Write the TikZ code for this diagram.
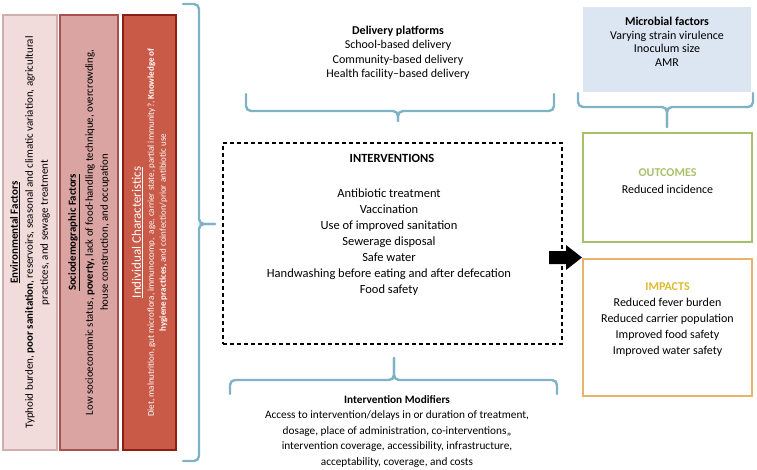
\documentclass[tikz,border=0pt]{standalone}
\usepackage{fontspec}
\setmainfont{Carlito}
\usepackage{tikz}

\definecolor{envfill}{HTML}{F2DCDB}
\definecolor{envline}{HTML}{CFAFAD}
\definecolor{socfill}{HTML}{D9A4A2}
\definecolor{socline}{HTML}{A8504C}
\definecolor{indfill}{HTML}{C95A47}
\definecolor{indline}{HTML}{8C1E14}
\definecolor{bracecol}{HTML}{7DB3C5}
\definecolor{microfill}{HTML}{DCE6F2}
\definecolor{outgreen}{HTML}{A9C06A}
\definecolor{impline}{HTML}{E9B46A}
\definecolor{impgold}{HTML}{DDBB2E}

\begin{document}
\begin{tikzpicture}[x=1pt,y=-1pt,
	sidebox/.style={draw,line width=1.6pt,rotate=90,align=center,inner sep=0pt},
	brace/.style={draw=bracecol,line width=2.4pt,rounded corners=5pt,line cap=round},
	txt/.style={align=center,inner sep=0pt,font=\fontsize{12}{14.5}\selectfont},
	outbox/.style={draw,line width=1.8pt,minimum width=169pt,inner sep=0pt}]
		\useasboundingbox (0,0) rectangle (757,469);
		
		% factors on the left
		\node[sidebox,fill=envfill,draw=envline,minimum width=435pt,minimum height=54pt,
			font=\fontsize{11}{15}\selectfont] (env) at (30,232.5)
			{\underline{\textbf{Environmental Factors}}\\
			Typhoid burden, \textbf{poor sanitation}, reservoirs, seasonal and climatic variation, agricultural\\
			practices, and sewage treatment};
		\node[sidebox,fill=socfill,draw=socline,minimum width=435pt,minimum height=58pt,
			font=\fontsize{10.8}{15}\selectfont] (socio) at (89,232.5)
			{\underline{\textbf{Sociodemographic Factors}}\\[2pt]
			Low socioeconomic status, \textbf{poverty,} lack of food-handling technique, overcrowding,\\
			house construction, and occupation};
		\node[sidebox,fill=indfill,draw=indline,minimum width=435pt,minimum height=53pt,
			text=white] (indiv) at (149.5,232.5)
			{{\fontsize{13}{15}\selectfont\underline{Individual Characteristics}}\\[1pt]
			{\fontsize{9}{11}\selectfont Diet, malnutrition, gut microflora, immunocomp,\ \ age, carrier state, partial immunity?, \textbf{Knowledge of}}\\
			{\fontsize{9}{11}\selectfont \textbf{hygiene practices,} and coinfection/prior antibiotic use}};
		\draw[brace] (183,4) -| (199,224) -- (215,224);
		\draw[brace] (215,224) -- (199,224) |- (183,461);
		
		% delivery platforms
		\node[txt] (delivery) at (398,53)
			{\textbf{Delivery platforms}\\School-based delivery\\Community-based delivery\\Health facility--based delivery};
		\draw[brace] (246,94) |- (398,111) -- (398,121);
		\draw[brace] (398,121) -- (398,111) -| (554,94);
		
		% interventions
		\node[draw,line width=1.1pt,dash pattern=on 4pt off 3pt,minimum width=339pt,minimum height=201pt] (intbox) at (392.5,243.5) {};
		\node[txt,font=\fontsize{12.5}{14.5}\selectfont\bfseries] (inttitle) at (392,158) {INTERVENTIONS};
		\node[txt,font=\fontsize{12.5}{16}\selectfont] (intlist) at (389,242.5)
			{Antibiotic treatment\\Vaccination\\Use of improved sanitation\\Sewerage disposal\\Safe water\\Handwashing before eating and after defecation\\Food safety};
		
		% intervention modifiers
		\draw[brace] (230,394) |- (394,380) -- (394,358);
		\draw[brace] (394,358) -- (394,380) -| (557,394);
		\node[txt,font=\fontsize{11.3}{15.5}\selectfont] (modifiers) at (397,431)
			{\textbf{Intervention Modifiers}\\Access to intervention/delays in or duration of treatment,\\dosage, place of administration, co-interventions,,\\intervention coverage, accessibility, infrastructure,\\acceptability, coverage, and costs};
		
		% microbial factors
		\node[fill=microfill,minimum width=168pt,minimum height=85pt,inner sep=0pt] (microbox) at (667,49.5) {};
		\node[txt,font=\fontsize{12}{13.5}\selectfont] (microbial) at (667,42)
			{\textbf{Microbial factors}\\Varying strain virulence\\Inoculum size\\AMR};
		\draw[brace] (578,93) |- (667,107) -- (667,127);
		\draw[brace] (667,127) -- (667,107) -| (753,93);
		
		% outcomes and impacts
		\node[outbox,draw=outgreen,minimum height=109pt] (outbox) at (667.5,187.5) {};
		\node[txt,font=\fontsize{12}{17}\selectfont] (outcomes) at (667.5,181.5)
			{\textcolor{outgreen}{\textbf{OUTCOMES}}\\Reduced incidence};
		\node[outbox,draw=impline,minimum height=137pt] (impbox) at (667.5,327.5) {};
		\node[txt,font=\fontsize{12}{15.8}\selectfont] (impacts) at (667.5,319.5)
			{\textcolor{impgold}{\textbf{IMPACTS}}\\Reduced fever burden\\Reduced carrier population\\Improved food safety\\Improved water safety};
		\fill (549,251) -- (566,251) -- (566,245) -- (582,257.5) -- (566,270) -- (566,264) -- (549,264) -- cycle;
	\end{tikzpicture}
\end{document}
